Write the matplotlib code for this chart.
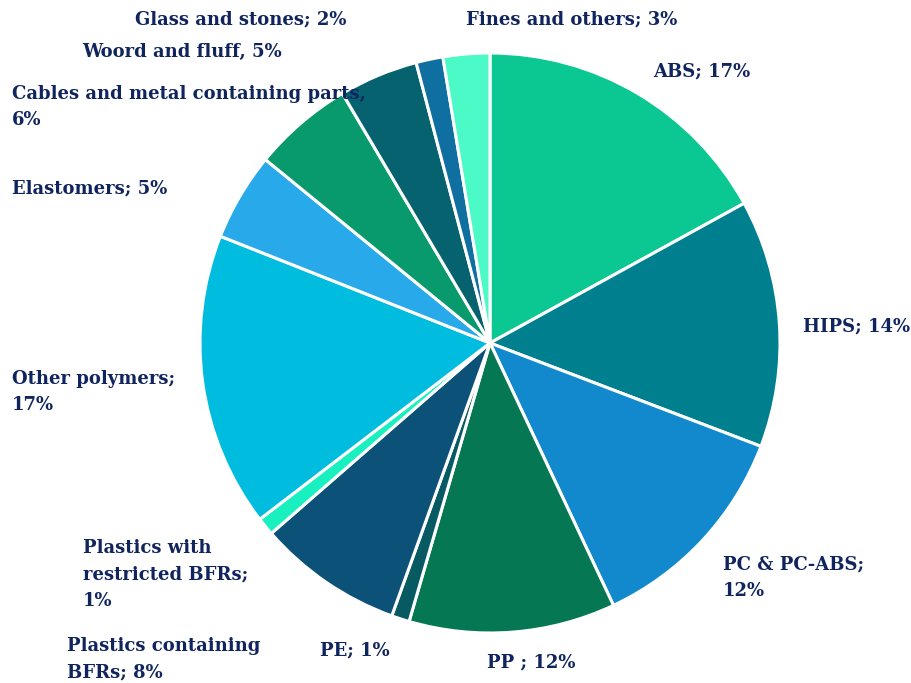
import matplotlib

matplotlib.use("Agg")
import matplotlib.pyplot as plt

# shares (labels carry the rounded figures)
categories = [
    "ABS", "HIPS", "PC & PC-ABS", "PP", "PE", "Plastics containing BFRs",
    "Plastics with restricted BFRs", "Other polymers", "Elastomers",
    "Cables and metal containing parts", "Woord and fluff",
    "Glass and stones", "Fines and others",
]
shares = [17.0, 13.8, 12.2, 11.5, 1.0, 8.1, 1.0, 16.4, 4.9, 5.6, 4.4, 1.5, 2.6]
label_texts = [
    "ABS; 17%", "HIPS; 14%", "PC & PC-ABS;\n12%", "PP ; 12%", "PE; 1%",
    "Plastics containing\nBFRs; 8%", "Plastics with\nrestricted BFRs;\n1%",
    "Other polymers;\n17%", "Elastomers; 5%",
    "Cables and metal containing parts,\n6%", "Woord and fluff, 5%",
    "Glass and stones; 2%", "Fines and others; 3%",
]
colors = [
    "#0bc791", "#00808f", "#1289cc", "#067753", "#075a62", "#0b5178",
    "#19f0c0", "#00bde0", "#27a9ea", "#089a6c", "#06626f", "#0f6fa0",
    "#4cfac8",
]

# label anchor: left x, last-line baseline y (pixels from top-left)
label_pos = [
    (653, 76), (803, 331), (723, 596), (487, 667), (320, 655), (67, 677),
    (83, 606), (12, 410), (12, 193), (12, 125), (82, 57), (135, 24),
    (466, 24),
]

W, H = 912, 683
fig = plt.figure(figsize=(W / 100, H / 100), dpi=100)
ax = fig.add_axes([200 / W, 50 / H, 580 / W, 580 / H])
ax.pie(
    shares,
    colors=colors,
    startangle=90,
    counterclock=False,
    radius=1.0,
    wedgeprops=dict(edgecolor="white", linewidth=2.2),
)
ax.set_xlim(-1, 1)
ax.set_ylim(-1, 1)
ax.axis("off")

for text, (x, y) in zip(label_texts, label_pos, strict=True):
    fig.text(
        x / W, 1 - y / H, text,
        ha="left", va="baseline",
        fontsize=13, fontweight="bold", family="DejaVu Serif",
        color="#10245e", linespacing=1.6,
    )

fig.savefig("out.png", dpi=100)
